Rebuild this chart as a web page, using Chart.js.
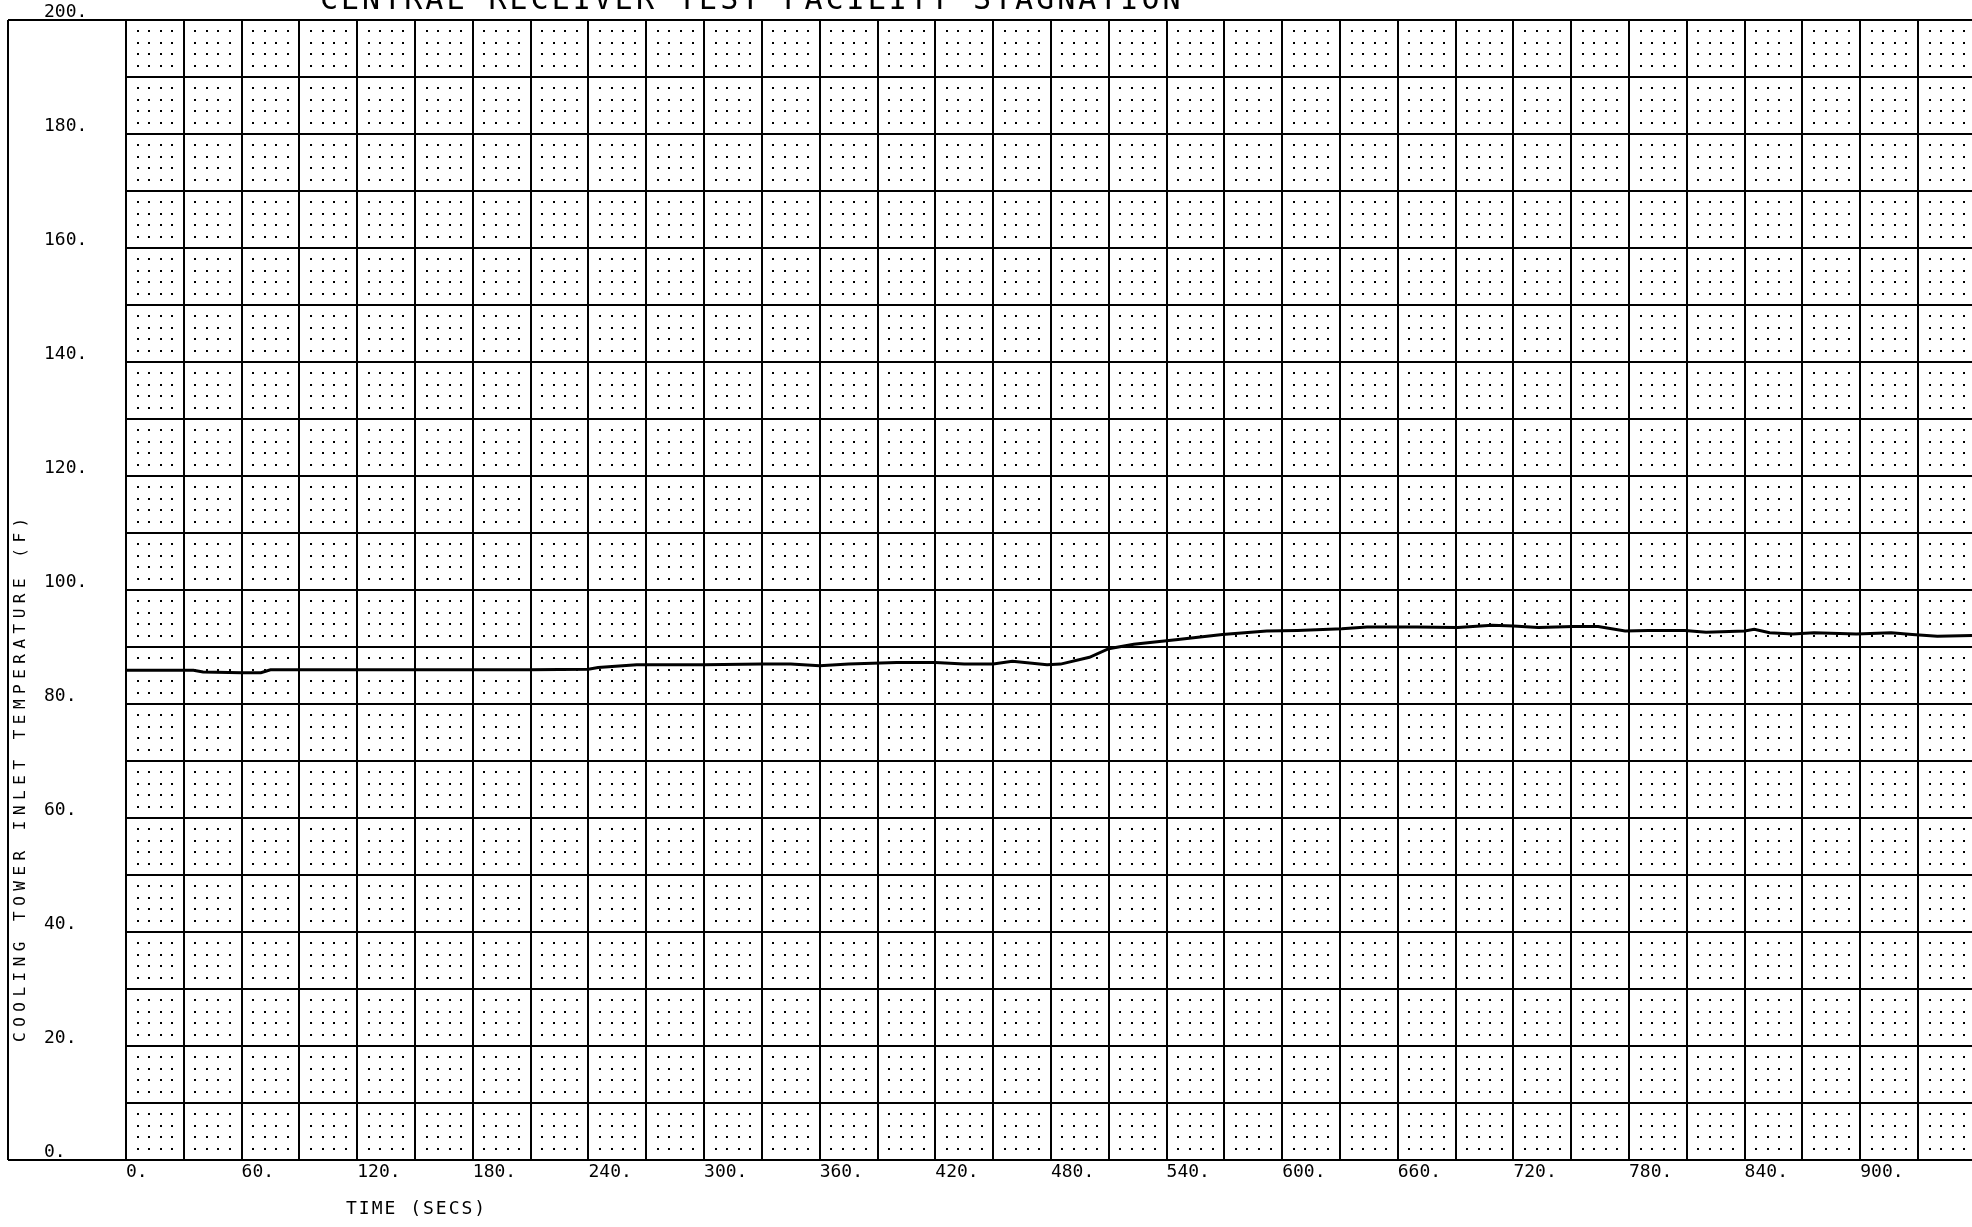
<!DOCTYPE html>
<html>
<head>
<meta charset="utf-8">
<title>Cooling tower inlet temperature</title>
<script src="https://cdn.jsdelivr.net/npm/chart.js@4.4.0/dist/chart.umd.min.js"></script>
<style>
    html, body { margin: 0; padding: 0; background: #fff; }
    #wrap { width: 1972px; height: 1227px; overflow: hidden; }
</style>
</head>
<body>
<div id="wrap"><canvas id="temp-chart" width="1972" height="1227"></canvas></div>
<script>
// plot texts
const plotTitle = "CENTRAL RECEIVER TEST FACILITY STAGNATION";
const xTitle = "TIME (SECS)";
const yTitle = "COOLING TOWER INLET TEMPERATURE (F)";

// axis ranges / ticks
const xMin = 0, xMax = 958, xStep = 30, xLabelEvery = 60, xDotStep = 6;
const yMin = 0, yMax = 200, yStep = 10, yLabelEvery = 20, yDotStep = 2;

// trace: time (s) / inlet temperature (F)
const timeSecs = [0, 20, 35, 40, 60, 70, 75, 120, 180, 210, 240, 245, 265, 280, 300, 330, 345, 360, 375, 400,
    420, 435, 450, 460, 478, 485, 500, 510, 523, 546, 569, 592, 608, 631, 644, 670, 691, 709, 720, 733,
    751, 764, 778, 790, 809, 820, 840, 845, 853, 865, 876, 898, 916, 927, 940, 958];
const inletTemp = [85.9, 85.9, 85.9, 85.6, 85.5, 85.5, 86.0, 86.0, 86.0, 86.0, 86.1, 86.4, 86.9, 86.9, 86.9, 87.0, 87.0, 86.7, 87.0, 87.3,
    87.3, 87.0, 87.0, 87.5, 86.9, 87.0, 88.2, 89.7, 90.5, 91.3, 92.2, 92.8, 92.9, 93.2, 93.5, 93.5, 93.4, 93.8, 93.7, 93.4,
    93.6, 93.6, 92.8, 92.9, 92.9, 92.6, 92.8, 93.1, 92.5, 92.3, 92.5, 92.3, 92.5, 92.2, 91.9, 92.0];

const FONT = "'DejaVu Sans Mono', monospace";
const FRAME_LEFT = 8;

// dotted minor grid, 4x4 dots in each cell
const dotGrid = {
    id: "dotGrid",
    beforeDatasetsDraw(chart) {
        const { ctx, chartArea, scales: { x, y } } = chart;
        ctx.save();
        ctx.fillStyle = "#000";
        for (let t = xMin; t <= xMax; t += xDotStep) {
            if (t % xStep === 0) continue;
            const px = Math.round(x.getPixelForValue(t));
            if (px > chartArea.right) break;
            for (let v = yMin; v <= yMax; v += yDotStep) {
                if (v % yStep === 0) continue;
                const py = Math.round(y.getPixelForValue(v));
                ctx.fillRect(px - 1, py - 1, 2, 2);
            }
        }
        ctx.restore();
    }
};

// outer frame + plotter style texts
const frameAndText = {
    id: "frameAndText",
    afterDraw(chart) {
        const { ctx, chartArea, width } = chart;
        const top = chartArea.top, bottom = chartArea.bottom;
        ctx.save();
        ctx.strokeStyle = "#000";
        ctx.lineWidth = 2;
        ctx.beginPath();
        ctx.moveTo(FRAME_LEFT, top); ctx.lineTo(width, top);
        ctx.moveTo(FRAME_LEFT, bottom); ctx.lineTo(width, bottom);
        ctx.moveTo(FRAME_LEFT, top); ctx.lineTo(FRAME_LEFT, bottom);
        ctx.stroke();

        ctx.fillStyle = "#000";

        // title, runs off the top of the sheet
        ctx.font = "30px " + FONT;
        ctx.letterSpacing = "3px";
        ctx.textAlign = "left";
        ctx.textBaseline = "alphabetic";
        ctx.fillText(plotTitle, 320, 9);

        // x axis title
        ctx.font = "18px " + FONT;
        ctx.letterSpacing = "2px";
        ctx.textBaseline = "middle";
        ctx.fillText(xTitle, 346, bottom + 49);

        // y axis title, rotated
        ctx.translate(21, bottom - 118);
        ctx.rotate(-Math.PI / 2);
        ctx.font = "16px " + FONT;
        ctx.letterSpacing = "5.5px";
        ctx.fillText(yTitle, 0, 0);
        ctx.restore();
    }
};

const points = timeSecs.map((t, i) => ({ x: t, y: inletTemp[i] }));

new Chart(document.getElementById("temp-chart"), {
    type: "line",
    data: {
        datasets: [{
            label: "Inlet temperature",
            data: points,
            borderColor: "#000",
            borderWidth: 3,
            pointRadius: 0,
            tension: 0,
            fill: false
        }]
    },
    options: {
        responsive: false,
        animation: false,
        devicePixelRatio: 1,
        layout: { padding: { left: 44, top: 20, right: 0, bottom: 0 } },
        plugins: {
            legend: { display: false },
            title: { display: false },
            tooltip: { enabled: false }
        },
        scales: {
            x: {
                type: "linear",
                min: xMin,
                max: xMax,
                afterFit(scale) { scale.height = 67; },
                grid: { color: "#000", lineWidth: 2, drawTicks: false, tickLength: 0 },
                border: { color: "#000", width: 2 },
                ticks: {
                    stepSize: xStep,
                    includeBounds: false,
                    autoSkip: false,
                    maxRotation: 0,
                    align: "start",
                    padding: 2,
                    color: "#000",
                    font: { family: FONT, size: 18 },
                    callback: v => (v % xLabelEvery === 0 ? v + "." : "")
                }
            },
            y: {
                min: yMin,
                max: yMax,
                afterFit(scale) { scale.width = 82; },
                grid: { color: "#000", lineWidth: 2, drawTicks: false, tickLength: 0 },
                border: { color: "#000", width: 2 },
                ticks: {
                    stepSize: yStep,
                    autoSkip: false,
                    crossAlign: "far",
                    labelOffset: -8,
                    color: "#000",
                    font: { family: FONT, size: 18 },
                    callback: v => (v % yLabelEvery === 0 ? v + "." : "")
                }
            }
        }
    },
    plugins: [dotGrid, frameAndText]
});
</script>
</body>
</html>
